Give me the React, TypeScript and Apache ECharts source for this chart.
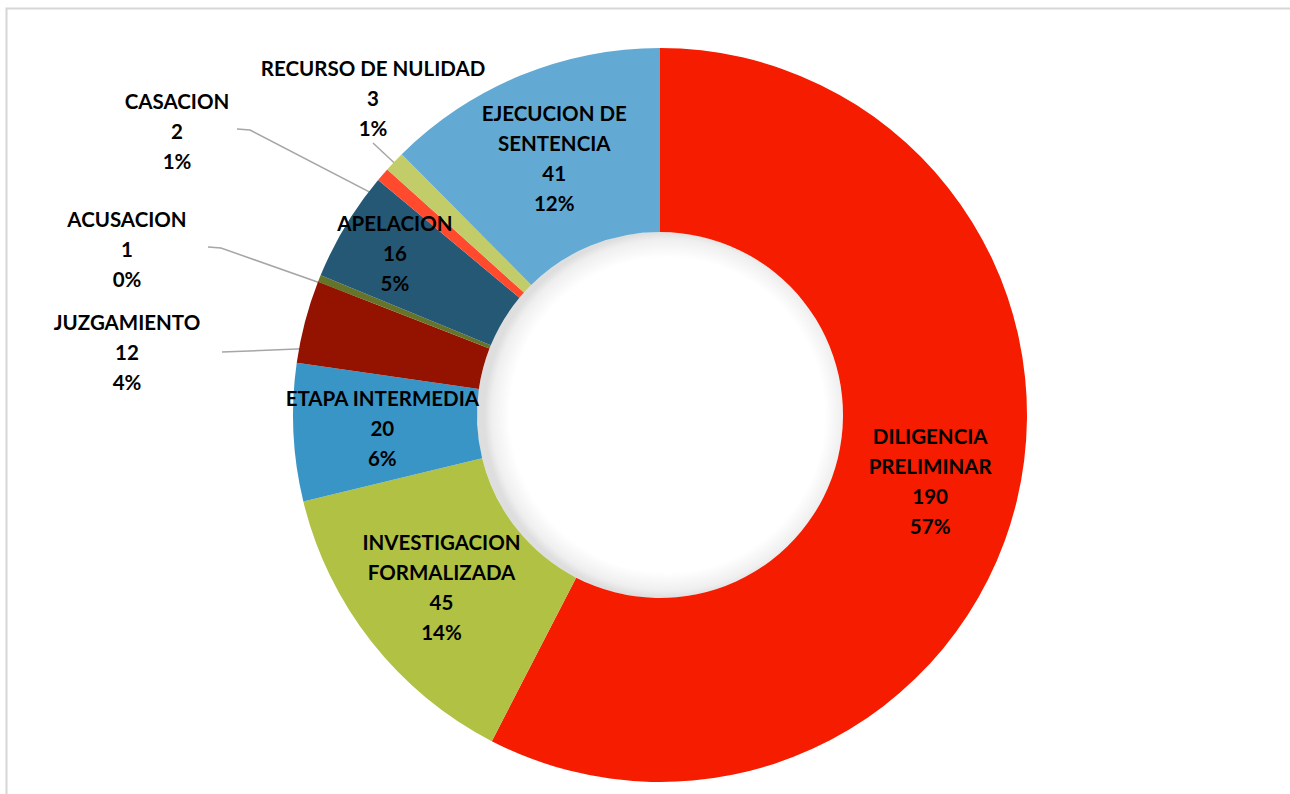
import React, { useEffect, useRef } from "react";
import * as echarts from "echarts";

const categories = [
  "DILIGENCIA PRELIMINAR",
  "INVESTIGACION FORMALIZADA",
  "ETAPA INTERMEDIA",
  "JUZGAMIENTO",
  "ACUSACION",
  "APELACION",
  "CASACION",
  "RECURSO DE NULIDAD",
  "EJECUCION DE SENTENCIA",
];
const labelNames = [
  "DILIGENCIA\nPRELIMINAR",
  "INVESTIGACION\nFORMALIZADA",
  "ETAPA INTERMEDIA",
  "JUZGAMIENTO",
  "ACUSACION",
  "APELACION",
  "CASACION",
  "RECURSO DE NULIDAD",
  "EJECUCION DE\nSENTENCIA",
];
const values = [190, 45, 20, 12, 1, 16, 2, 3, 41];
const percents = [57, 14, 6, 4, 0, 5, 1, 1, 12];
const colors = [
  "#F51C00",
  "#B0C144",
  "#3A95C7",
  "#931200",
  "#66742A",
  "#245875",
  "#FF4A2E",
  "#C2CC69",
  "#62AAD3",
];

// layout (not data)
const CX = 660;
const CY = 415;
const R0 = 183;
const R1 = 367;
const RM = (R0 + R1) / 2;

// outside label placement: label center, leader end at label, bend point
const outsideLabels: Record<number, { pos: [number, number]; end: [number, number]; bend: [number, number] }> = {
  3: { pos: [127, 352], end: [222, 352], bend: [222, 352] },
  4: { pos: [127, 249], end: [208, 247], bend: [221, 248] },
  6: { pos: [177, 131], end: [237, 129], bend: [250, 130] },
  7: { pos: [373, 98], end: [373, 143], bend: [373, 143] },
};
const insideShift: Record<number, [number, number]> = {
  5: [-27, -18],
};

export default function App() {
  const ref = useRef<HTMLDivElement>(null);
  useEffect(() => {
    if (!ref.current) return;
    const chart = echarts.init(ref.current, null, { renderer: "svg" });
    const total = values.reduce((a, b) => a + b, 0);
    const mids: number[] = [];
    let acc = 0;
    values.forEach((v) => {
      mids.push(((acc + v / 2) / total) * Math.PI * 2);
      acc += v;
    });

    const data = values.map((v, i) => {
      const outside = outsideLabels[i] != null;
      return {
        name: categories[i],
        value: v,
        itemStyle: { color: colors[i] },
        label: { position: outside ? "outside" : "inside" },
        labelLine: { show: outside },
      };
    });

    chart.setOption({
      animation: false,
      backgroundColor: "#ffffff",
      graphic: [
        {
          type: "rect",
          shape: { x: 6.5, y: 8.5, width: 1400, height: 900 },
          style: { fill: "none", stroke: "#d6d6d6", lineWidth: 2 },
          silent: true,
        },
        {
          type: "circle",
          shape: { cx: CX, cy: CY, r: R0 },
          style: {
            fill: new echarts.graphic.RadialGradient(0.52, 0.5, 0.5, [
              { offset: 0, color: "#ffffff" },
              { offset: 0.86, color: "#ffffff" },
              { offset: 0.96, color: "#efefef" },
              { offset: 1, color: "#dedede" },
            ]),
          },
          silent: true,
          z: 0,
        },
      ],
      series: [
        {
          type: "pie",
          center: [CX, CY],
          radius: [R0, R1],
          startAngle: 90,
          clockwise: true,
          avoidLabelOverlap: false,
          itemStyle: { borderWidth: 0 },
          label: {
            show: true,
            color: "#000000",
            fontFamily: "Lato",
            fontWeight: "bold",
            fontSize: 20.5,
            lineHeight: 30,
            align: "center",
            formatter: (p: any) =>
              `${labelNames[p.dataIndex]}\n${values[p.dataIndex]}\n${percents[p.dataIndex]}%`,
          },
          labelLine: {
            show: true,
            lineStyle: { color: "#A6A6A6", width: 1.5 },
          },
          labelLayout: (p: any) => {
            const i = p.dataIndex;
            const o = outsideLabels[i];
            if (o) {
              const a = mids[i];
              const sx = CX + RM * Math.sin(a);
              const sy = CY - RM * Math.cos(a);
              return {
                x: o.pos[0],
                y: o.pos[1],
                align: "center",
                verticalAlign: "middle",
                labelLinePoints: [[sx, sy], o.bend, o.end],
              };
            }
            const s = insideShift[i];
            if (s) return { dx: s[0], dy: s[1] };
            return {};
          },
          data,
        },
      ],
    });
    return () => chart.dispose();
  }, []);
  return (
    <div
      ref={ref}
      style={{ position: "absolute", left: 0, top: 0, width: 1290, height: 794 }}
    />
  );
}
